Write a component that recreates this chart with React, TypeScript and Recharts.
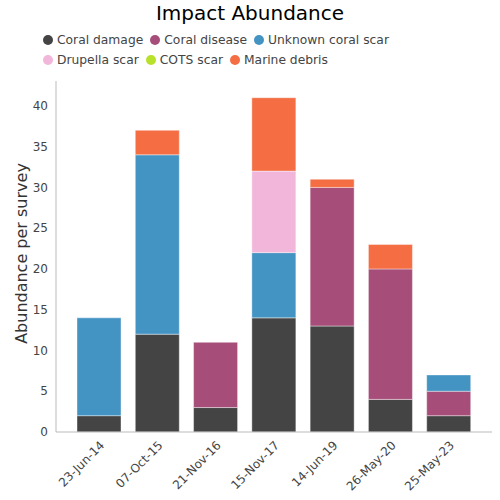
import React from "react";
import { BarChart, Bar, XAxis, YAxis } from "recharts";

const categories = ["23-Jun-14", "07-Oct-15", "21-Nov-16", "15-Nov-17", "14-Jun-19", "26-May-20", "25-May-23"];
const coralDamage = [2, 12, 3, 14, 13, 4, 2];
const coralDisease = [0, 0, 8, 0, 17, 16, 3];
const unknownCoralScar = [12, 22, 0, 8, 0, 0, 2];
const drupellaScar = [0, 0, 0, 10, 0, 0, 0];
const cotsScar = [0, 0, 0, 0, 0, 0, 0];
const marineDebris = [0, 3, 0, 9, 1, 3, 0];
const yTicks = [0, 5, 10, 15, 20, 25, 30, 35, 40];

const series = [
  { key: "damage", name: "Coral damage", values: coralDamage, color: "#444444" },
  { key: "disease", name: "Coral disease", values: coralDisease, color: "#a64e79" },
  { key: "unknown", name: "Unknown coral scar", values: unknownCoralScar, color: "#4393c3" },
  { key: "drupella", name: "Drupella scar", values: drupellaScar, color: "#f1b6da" },
  { key: "cots", name: "COTS scar", values: cotsScar, color: "#b8e12b" },
  { key: "debris", name: "Marine debris", values: marineDebris, color: "#f46d43" },
];

const data = categories.map((c, i) => {
  const row: any = { date: c };
  series.forEach((s) => (row[s.key] = s.values[i]));
  return row;
});

const FONT = "'DejaVu Sans', sans-serif";

export default function App() {
  return (
    <div style={{ position: "absolute", left: 0, top: 0, width: 500, height: 500, fontFamily: FONT }}>
      <div style={{ position: "absolute", left: 0, top: 1, width: 500, textAlign: "center", fontSize: 20, color: "#000", lineHeight: "24px" }}>
        Impact Abundance
      </div>
      <div style={{ position: "absolute", left: 43, top: 30, width: 370, display: "flex", flexWrap: "wrap", fontSize: 12.3, color: "#444" }}>
        {series.map((s) => (
          <div key={s.key} style={{ display: "flex", alignItems: "center", height: 20, marginRight: 7 }}>
            <span style={{ display: "inline-block", width: 10, height: 10, borderRadius: 5, background: s.color, marginRight: 4 }} />
            <span>{s.name}</span>
          </div>
        ))}
      </div>
      <BarChart width={500} height={500} data={data} margin={{ top: 81, right: 8, left: 0, bottom: 0 }} barSize={44}>
        <XAxis
          dataKey="date"
          height={68}
          tickLine={false}
          axisLine={{ stroke: "#bbb" }}
          padding={{ left: 14, right: 14 }}
          interval={0}
          angle={-45}
          textAnchor="end"
          tick={{ fill: "#444", fontSize: 12, fontFamily: FONT }}
        />
        <YAxis
          width={56}
          domain={[0, 43.05]}
          ticks={yTicks}
          tickLine={false}
          axisLine={{ stroke: "#bbb" }}
          tick={{ fill: "#444", fontSize: 12, fontFamily: FONT }}
          label={{ value: "Abundance per survey", angle: -90, position: "center", dx: -7, dy: -3, fill: "#333", fontSize: 16, fontFamily: FONT }}
        />
        {series.map((s) => (
          <Bar
            key={s.key}
            dataKey={s.key}
            name={s.name}
            stackId="a"
            fill={s.color}
            stroke="rgba(255,255,255,0.4)"
            strokeWidth={1}
            isAnimationActive={false}
          />
        ))}
      </BarChart>
    </div>
  );
}
